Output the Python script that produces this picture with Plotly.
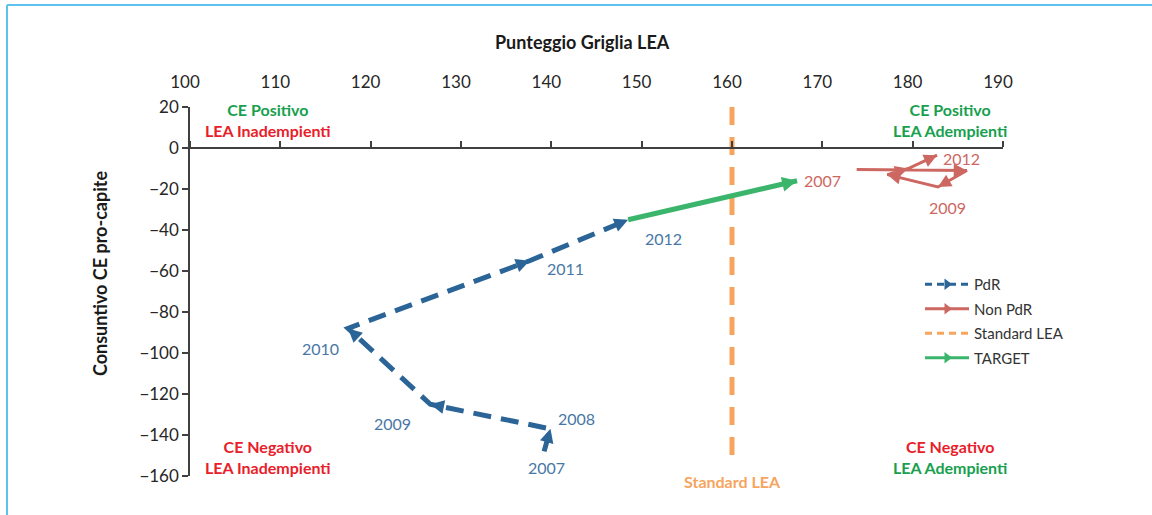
import math
import plotly.graph_objects as go

# --- data -------------------------------------------------------------
years = [2007, 2008, 2009, 2010, 2011, 2012]

pdr_lea = [139.2, 139.9, 126.6, 117.5, 137.6, 148.5]
pdr_ce = [-148, -137, -125, -88, -55, -35]

nonpdr_lea = [173.8, 186.0, 182.8, 177.2, 179.5, 182.7]
nonpdr_ce = [-10.5, -11, -19, -13, -10, -3.5]

target_lea = [148.5, 167.2]
target_ce = [-35, -16]

standard_lea = 160
standard_span = [20, -150]

x_ticks = [100, 110, 120, 130, 140, 150, 160, 170, 180, 190]
y_ticks = [20, 0, -20, -40, -60, -80, -100, -120, -140, -160]

# label offsets (px) for the year tags
pdr_label_shift = {2007: (2, -16), 2008: (26, 10), 2009: (-38, -19),
                   2010: (-28, -20), 2011: (36, -8), 2012: (35, -19)}
nonpdr_label_shift = {2007: (-34, -11), 2009: (10, -21), 2012: (24, -3)}

# --- colours ----------------------------------------------------------
C_PDR = "#2b6496"
C_PDR_TXT = "#4877a6"
C_NON = "#cd6761"
C_STD = "#f7a45e"
C_TGT = "#3bb56c"
C_GREEN = "#17a04e"
C_RED = "#e8202a"
FONT = "Lato"

X_RANGE = [100, 190]
Y_RANGE = [-160, 20]

# plot-area geometry in px, used to place free text in paper units
L, R, T, B = 190, 1003, 107, 476
W, H = 1152, 515

# px per data unit, for orienting the arrowheads
SX = (R - L) / (X_RANGE[1] - X_RANGE[0])
SY = (B - T) / (Y_RANGE[1] - Y_RANGE[0])


def px(x):
    return (x - L) / (R - L)


def py(y):
    return (B - y) / (B - T)


def heads(xs, ys, color, width, size, stub=8):
    """Filled arrowheads at the end of every step of a path."""
    out = []
    for i in range(1, len(xs)):
        dxp = (xs[i] - xs[i - 1]) * SX
        dyp = -(ys[i] - ys[i - 1]) * SY
        n = math.hypot(dxp, dyp)
        out.append(dict(
            x=xs[i], y=ys[i], xref="x", yref="y",
            ax=-dxp / n * stub, ay=-dyp / n * stub,
            text="", showarrow=True,
            arrowhead=2, arrowsize=size, arrowwidth=width,
            arrowcolor=color, standoff=0, startstandoff=0))
    return out


fig = go.Figure()

# PdR trajectory
fig.add_trace(go.Scatter(
    x=pdr_lea, y=pdr_ce, mode="lines", showlegend=False,
    line=dict(color=C_PDR, width=5, dash="18px,10px"), hoverinfo="skip"))

# Non PdR trajectory
fig.add_trace(go.Scatter(
    x=nonpdr_lea, y=nonpdr_ce, mode="lines", showlegend=False,
    line=dict(color=C_NON, width=3), hoverinfo="skip"))

# Standard LEA threshold
fig.add_trace(go.Scatter(
    x=[standard_lea, standard_lea], y=standard_span, mode="lines",
    showlegend=False, line=dict(color=C_STD, width=5, dash="18px,12px"),
    hoverinfo="skip"))

# target step
fig.add_trace(go.Scatter(
    x=target_lea, y=target_ce, mode="lines", showlegend=False,
    line=dict(color=C_TGT, width=5), hoverinfo="skip"))

# legend entries
for name, col, dash in [("PdR", C_PDR, "7px,5px"),
                        ("Non PdR", C_NON, "solid"),
                        ("Standard LEA", C_STD, "7px,5px"),
                        ("TARGET", C_TGT, "solid")]:
    show_head = name != "Standard LEA"
    fig.add_trace(go.Scatter(
        x=[None], y=[None], name=name, legendgroup=name,
        mode="lines+markers" if show_head else "lines",
        line=dict(color=col, width=3, dash=dash),
        marker=dict(symbol="triangle-right", size=10, color=col)))

annotations = []
annotations += heads(pdr_lea, pdr_ce, C_PDR, 3, 0.92)
annotations += heads(nonpdr_lea, nonpdr_ce, C_NON, 2.5, 1.05)
annotations += heads(target_lea, target_ce, C_TGT, 3.5, 0.85)

# year tags
for yr, x, y in zip(years, pdr_lea, pdr_ce):
    dx, dy = pdr_label_shift[yr]
    annotations.append(dict(x=x, y=y, xref="x", yref="y", text=str(yr),
                            showarrow=False, xshift=dx, yshift=dy,
                            xanchor="center", yanchor="middle",
                            font=dict(family=FONT, size=16, color=C_PDR_TXT)))
for yr, x, y in zip(years, nonpdr_lea, nonpdr_ce):
    if yr in nonpdr_label_shift:
        dx, dy = nonpdr_label_shift[yr]
        annotations.append(dict(x=x, y=y, xref="x", yref="y", text=str(yr),
                                showarrow=False, xshift=dx, yshift=dy,
                                xanchor="center", yanchor="middle",
                                font=dict(family=FONT, size=16, color=C_NON)))


def free_text(xc, yc, text, size, color="#1a1a1a", bold=True, angle=0):
    return dict(x=px(xc), y=py(yc), xref="paper", yref="paper", text=text,
                showarrow=False, align="center", xanchor="center",
                yanchor="middle", textangle=angle,
                font=dict(family=FONT, size=size, color=color,
                          weight="bold" if bold else "normal"))


def quad(xc, yc, top, top_col, bottom, bottom_col):
    txt = (f"<span style='color:{top_col}'>{top}</span><br>"
           f"<span style='color:{bottom_col}'>{bottom}</span>")
    return free_text(xc, yc, txt, 16)


annotations += [
    quad(268, 120, "CE Positivo", C_GREEN, "LEA Inadempienti", C_RED),
    quad(950, 120, "CE Positivo", C_GREEN, "LEA Adempienti", C_GREEN),
    quad(268, 457, "CE Negativo", C_RED, "LEA Inadempienti", C_RED),
    quad(950, 457, "CE Negativo", C_RED, "LEA Adempienti", C_GREEN),
    dict(x=standard_lea, y=py(481), xref="x", yref="paper",
         text="Standard LEA", showarrow=False, xanchor="center",
         yanchor="middle",
         font=dict(family=FONT, size=16, weight="bold", color=C_STD)),
    free_text(582, 42, "Punteggio Griglia LEA", 18),
    free_text(100, 274, "Consuntivo CE pro-capite", 18, angle=-90),
]

# light blue frame on the left and top edges
shapes = [
    dict(type="line", xref="paper", yref="paper", x0=px(7), x1=px(7),
         y0=py(5), y1=py(H + 5), line=dict(color="#5bc3ec", width=2)),
    dict(type="line", xref="paper", yref="paper", x0=px(7), x1=px(W + 5),
         y0=py(5), y1=py(5), line=dict(color="#5bc3ec", width=2)),
]

axis_col = "#404040"
fig.update_layout(
    width=W, height=H,
    margin=dict(l=L, r=W - R, t=T, b=H - B),
    paper_bgcolor="white", plot_bgcolor="white",
    font=dict(family=FONT, size=16, color="#262626"),
    annotations=annotations, shapes=shapes,
    showlegend=True,
    legend=dict(x=px(920), y=py(268), xanchor="left", yanchor="top",
                font=dict(family=FONT, size=15, color="#333333"),
                bgcolor="rgba(0,0,0,0)", tracegroupgap=2, itemwidth=44),
    xaxis=dict(range=X_RANGE, side="top", tickvals=x_ticks,
               showline=False, showgrid=False, zeroline=False, ticks="",
               ticklabelstandoff=15, ticklabelshift=-5,
               tickfont=dict(size=17)),
    xaxis2=dict(range=X_RANGE, overlaying="x", matches="x",
                anchor="free", position=py(148), side="top",
                tickvals=x_ticks, showticklabels=False, showgrid=False,
                zeroline=False, showline=True, linecolor=axis_col,
                linewidth=1.5, ticks="outside", ticklen=6,
                tickcolor=axis_col, tickwidth=1.5),
    yaxis=dict(range=Y_RANGE, tickvals=y_ticks, showgrid=False,
               zeroline=False, showline=True, linecolor=axis_col,
               linewidth=1.5, ticks="outside", ticklen=6,
               tickcolor=axis_col, tickwidth=1.5,
               tickfont=dict(size=17)),
)

# dummy trace so the second x axis gets drawn
fig.add_trace(go.Scatter(x=[None], y=[None], xaxis="x2", showlegend=False,
                         hoverinfo="skip"))

fig.write_html("out.html")
